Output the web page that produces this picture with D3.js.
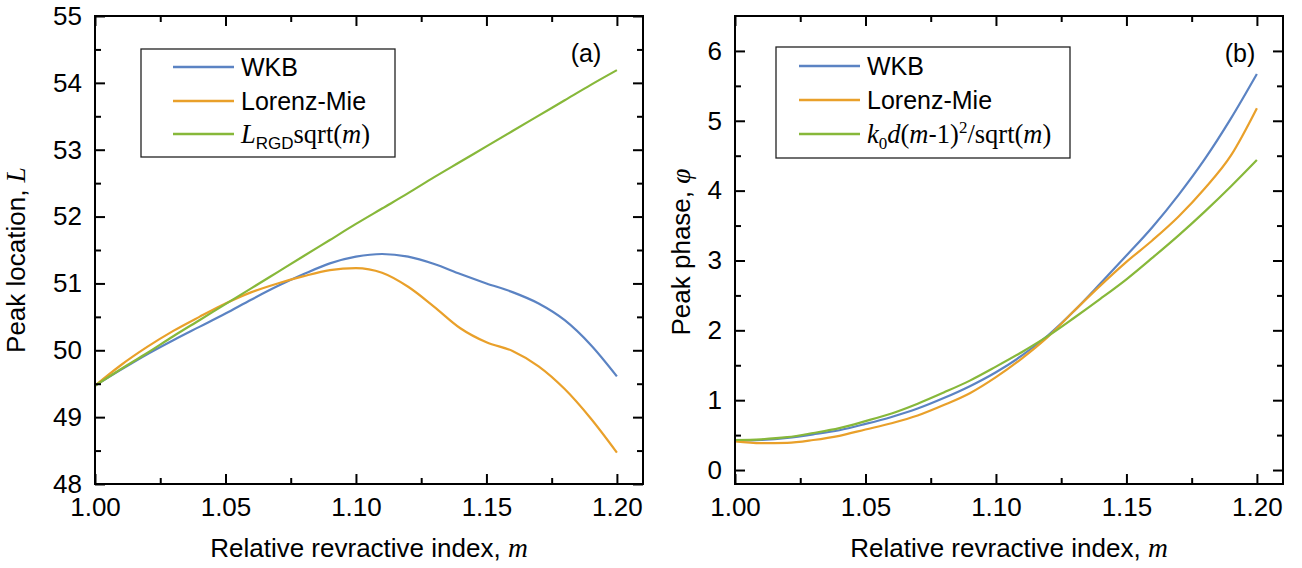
<!DOCTYPE html>
<html>
<head>
<meta charset="utf-8">
<script src="https://cdn.jsdelivr.net/npm/d3@7"></script>
<style>
  body { margin: 0; background: #fff; }
  svg { display: block; }
</style>
</head>
<body>
<svg id="chart" width="1302" height="568"></svg>
<script>
// Relative refractive index samples shared by every curve
const mValues = [1.00, 1.01, 1.02, 1.03, 1.04, 1.05, 1.06, 1.07, 1.08, 1.09, 1.10,
                 1.11, 1.12, 1.13, 1.14, 1.15, 1.16, 1.17, 1.18, 1.19, 1.20];

// (a) Peak location L
const locationWKB = [49.47, 49.71, 49.94, 50.15, 50.35, 50.55, 50.76, 50.96, 51.14, 51.30, 51.40,
                     51.44, 51.40, 51.29, 51.14, 51.00, 50.87, 50.70, 50.45, 50.08, 49.61];
const locationMie = [49.47, 49.78, 50.05, 50.29, 50.50, 50.70, 50.87, 51.00, 51.11, 51.20, 51.23,
                     51.16, 50.95, 50.65, 50.33, 50.12, 49.99, 49.76, 49.42, 48.98, 48.47];
const locationRGD = [49.47, 49.72, 49.96, 50.21, 50.45, 50.69, 50.93, 51.17, 51.41, 51.65, 51.89,
                     52.12, 52.35, 52.59, 52.82, 53.05, 53.28, 53.51, 53.74, 53.97, 54.19];

// (b) Peak phase phi
const phaseWKB = [0.42, 0.43, 0.46, 0.51, 0.57, 0.66, 0.76, 0.88, 1.03, 1.20, 1.40,
                  1.64, 1.93, 2.28, 2.67, 3.07, 3.48, 3.94, 4.45, 5.03, 5.67];
const phaseMie = [0.41, 0.385, 0.39, 0.43, 0.49, 0.58, 0.67, 0.78, 0.93, 1.10, 1.33,
                  1.60, 1.91, 2.28, 2.64, 2.98, 3.29, 3.63, 4.03, 4.50, 5.18];
const phaseApprox = [0.43, 0.44, 0.47, 0.53, 0.60, 0.70, 0.81, 0.95, 1.11, 1.28, 1.48,
                     1.69, 1.92, 2.18, 2.45, 2.73, 3.04, 3.36, 3.70, 4.06, 4.44];

// Tick values
const xTicks = [1.00, 1.05, 1.10, 1.15, 1.20];
const xMinorTicks = [1.025, 1.075, 1.125, 1.175];
const locationTicks = [48, 49, 50, 51, 52, 53, 54, 55];
const locationMinorTicks = [48.5, 49.5, 50.5, 51.5, 52.5, 53.5, 54.5];
const phaseTicks = [0, 1, 2, 3, 4, 5, 6];
const phaseMinorTicks = [0.5, 1.5, 2.5, 3.5, 4.5, 5.5];

const colors = { wkb: "#5b83c3", mie: "#e9a02a", approx: "#87b83a" };

const SANS = "Arial, 'Liberation Sans', sans-serif";
const SERIF = "'Times New Roman', 'Liberation Serif', serif";

// Rich-text runs: f = font (s sans / r serif), i = italic, sub / sup = shifted small text
const xTitle = [{ t: "Relative revractive index, ", f: "s" }, { t: "m", f: "r", i: true }];
const locationTitle = [{ t: "Peak location, ", f: "s" }, { t: "L", f: "r", i: true }];
const phaseTitle = [{ t: "Peak phase, ", f: "s" }, { t: "φ", f: "r", i: true }];

const legendA = [
  [{ t: "WKB", f: "s" }],
  [{ t: "Lorenz-Mie", f: "s" }],
  [{ t: "L", f: "r", i: true }, { t: "RGD", f: "s", sub: true }, { t: "sqrt(", f: "r" },
   { t: "m", f: "r", i: true }, { t: ")", f: "r" }]
];
const legendB = [
  [{ t: "WKB", f: "s" }],
  [{ t: "Lorenz-Mie", f: "s" }],
  [{ t: "k", f: "r", i: true }, { t: "0", f: "r", sub: true }, { t: "d", f: "r", i: true },
   { t: "(", f: "r" }, { t: "m", f: "r", i: true }, { t: "-", f: "s" }, { t: "1)", f: "r" },
   { t: "2", f: "r", sup: true }, { t: "/sqrt(", f: "r" }, { t: "m", f: "r", i: true }, { t: ")", f: "r" }]
];

const svg = d3.select("#chart");

function richText(sel, runs, size) {
  let shift = 0;
  runs.forEach(r => {
    const small = r.sub || r.sup;
    const target = r.sub ? 6 : r.sup ? -10 : 0;
    const ts = sel.append("tspan")
      .attr("font-family", r.f === "r" ? SERIF : SANS)
      .attr("font-size", small ? size * 0.68 : (r.f === "r" ? size * 1.06 : size))
      .attr("font-style", r.i ? "italic" : "normal")
      .attr("dy", target - shift)
      .text(r.t);
    shift = target;
  });
}

function drawPanel(cfg) {
  const g = svg.append("g");
  const x = d3.scaleLinear().domain([1.0, 1.21]).range([cfg.left, cfg.right]);
  const y = d3.scaleLinear().domain(cfg.yDomain).range([cfg.bottom, cfg.top]);

  const line = d3.line()
    .x((d, i) => x(mValues[i]))
    .y(d => y(d))
    .curve(d3.curveMonotoneX);

  cfg.series.forEach(s => {
    g.append("path")
      .datum(s.values)
      .attr("d", line)
      .attr("fill", "none")
      .attr("stroke", s.color)
      .attr("stroke-width", 2.2);
  });

  const style = sel => {
    sel.select(".domain").remove();
    sel.attr("font-family", SANS).attr("font-size", 26);
    sel.selectAll(".tick line").attr("stroke", "#000").attr("stroke-width", 2);
    sel.selectAll(".tick text").attr("fill", "#000");
  };

  // bottom and left axes with labels
  g.append("g").attr("transform", `translate(0,${cfg.bottom})`)
    .call(d3.axisBottom(x).tickValues(xTicks).tickFormat(d3.format(".2f")).tickSize(-10).tickPadding(14))
    .call(style);
  g.append("g").attr("transform", `translate(0,${cfg.bottom})`)
    .call(d3.axisBottom(x).tickValues(xMinorTicks).tickFormat("").tickSize(-6))
    .call(style);
  g.append("g").attr("transform", `translate(${cfg.left},0)`)
    .call(d3.axisLeft(y).tickValues(cfg.yTicks).tickFormat(d3.format("d")).tickSize(-10).tickPadding(13))
    .call(style);
  g.append("g").attr("transform", `translate(${cfg.left},0)`)
    .call(d3.axisLeft(y).tickValues(cfg.yMinor).tickFormat("").tickSize(-6))
    .call(style);

  // mirrored top and right ticks
  g.append("g").attr("transform", `translate(0,${cfg.top})`)
    .call(d3.axisTop(x).tickValues(xTicks).tickFormat("").tickSize(-10)).call(style);
  g.append("g").attr("transform", `translate(0,${cfg.top})`)
    .call(d3.axisTop(x).tickValues(xMinorTicks).tickFormat("").tickSize(-6)).call(style);
  g.append("g").attr("transform", `translate(${cfg.right},0)`)
    .call(d3.axisRight(y).tickValues(cfg.yTicks).tickFormat("").tickSize(-10)).call(style);
  g.append("g").attr("transform", `translate(${cfg.right},0)`)
    .call(d3.axisRight(y).tickValues(cfg.yMinor).tickFormat("").tickSize(-6)).call(style);

  g.append("rect")
    .attr("x", cfg.left).attr("y", cfg.top)
    .attr("width", cfg.right - cfg.left).attr("height", cfg.bottom - cfg.top)
    .attr("fill", "none").attr("stroke", "#000").attr("stroke-width", 2);

  // axis titles
  g.append("text")
    .attr("x", (cfg.left + cfg.right) / 2).attr("y", 557)
    .attr("text-anchor", "middle").attr("fill", "#000")
    .call(richText, xTitle, 26);
  g.append("text")
    .attr("transform", `translate(${cfg.yTitleX},${cfg.yTitleY}) rotate(-90)`)
    .attr("text-anchor", "middle").attr("fill", "#000")
    .call(richText, cfg.yTitle, 26);

  // panel tag
  g.append("text")
    .attr("x", cfg.tagX).attr("y", 62)
    .attr("text-anchor", "middle").attr("font-family", SANS).attr("font-size", 25)
    .attr("fill", "#000").text(cfg.tag);

  // legend
  const lg = cfg.legend;
  g.append("rect")
    .attr("x", lg.x).attr("y", lg.y).attr("width", lg.w).attr("height", lg.h)
    .attr("fill", "#fff").attr("stroke", "#222").attr("stroke-width", 1.3);
  cfg.series.forEach((s, i) => {
    const cy = lg.rowY[i];
    g.append("line")
      .attr("x1", lg.lineX1).attr("x2", lg.lineX2).attr("y1", cy).attr("y2", cy)
      .attr("stroke", s.color).attr("stroke-width", 2.4);
    g.append("text")
      .attr("x", lg.textX).attr("y", cy + 9).attr("fill", "#000")
      .call(richText, lg.labels[i], 25);
  });
}

drawPanel({
  left: 95, right: 643, top: 16, bottom: 484,
  yDomain: [48, 55], yTicks: locationTicks, yMinor: locationMinorTicks,
  series: [
    { values: locationWKB, color: colors.wkb },
    { values: locationMie, color: colors.mie },
    { values: locationRGD, color: colors.approx }
  ],
  yTitle: locationTitle, yTitleX: 25, yTitleY: 260,
  tag: "(a)", tagX: 586,
  legend: { x: 141, y: 49, w: 254, h: 108, lineX1: 173, lineX2: 234, textX: 241,
            rowY: [67, 101, 134], labels: legendA }
});

drawPanel({
  left: 735, right: 1283, top: 16, bottom: 484,
  yDomain: [-0.2, 6.5], yTicks: phaseTicks, yMinor: phaseMinorTicks,
  series: [
    { values: phaseWKB, color: colors.wkb },
    { values: phaseMie, color: colors.mie },
    { values: phaseApprox, color: colors.approx }
  ],
  yTitle: phaseTitle, yTitleX: 690, yTitleY: 252,
  tag: "(b)", tagX: 1240,
  legend: { x: 776, y: 47, w: 294, h: 111, lineX1: 799, lineX2: 860, textX: 867,
            rowY: [66, 100, 134], labels: legendB }
});
</script>
</body>
</html>
